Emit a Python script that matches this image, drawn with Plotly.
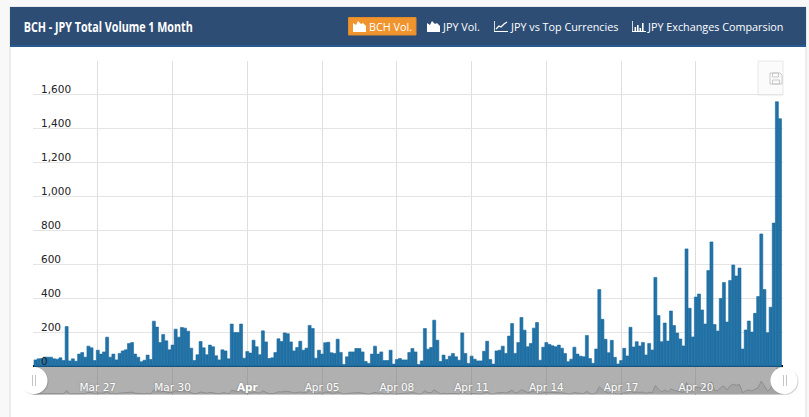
import plotly.graph_objects as go
import pandas as pd

W, H = 809, 417

# 3 hourly volume
volume = [
    39, 45, 47, 55, 55, 55, 45, 43, 51, 35, 235, 33, 45, 31, 73, 82, 55, 120, 110, 35,
    96, 73, 86, 173, 55, 73, 39, 77, 92, 98, 135, 141, 73, 55, 28, 37, 67, 41, 267, 232,
    141, 189, 151, 98, 126, 220, 173, 230, 226, 208, 108, 35, 69, 147, 110, 69, 126, 116, 63, 39,
    98, 92, 45, 250, 200, 200, 250, 49, 88, 79, 155, 116, 69, 210, 145, 47, 51, 82, 163, 147,
    198, 193, 145, 92, 112, 149, 96, 108, 242, 224, 49, 96, 73, 140, 143, 81, 77, 161, 83, 12,
    57, 86, 86, 106, 106, 86, 29, 18, 73, 120, 73, 86, 35, 35, 96, 14, 41, 47, 39, 39,
    83, 106, 86, 12, 33, 224, 102, 112, 273, 155, 29, 67, 41, 61, 77, 57, 37, 198, 77, 18,
    61, 43, 33, 33, 90, 149, 41, 14, 92, 96, 120, 77, 179, 253, 77, 141, 289, 214, 116, 136,
    226, 259, 37, 114, 141, 130, 122, 116, 126, 108, 77, 28, 43, 114, 73, 61, 57, 183, 47, 19,
    103, 453, 278, 160, 81, 154, 54, 15, 35, 107, 62, 231, 115, 146, 121, 142, 68, 136, 97, 525,
    300, 146, 256, 150, 327, 241, 197, 162, 121, 693, 343, 174, 409, 427, 333, 250, 565, 734, 247, 209,
    401, 495, 262, 507, 598, 533, 580, 103, 215, 268, 203, 313, 412, 781, 453, 199, 349, 845, 1560, 1460,
]
times = pd.date_range("2018-03-24 12:00", periods=len(volume), freq="3h")

y_ticks = [0, 200, 400, 600, 800, 1000, 1200, 1400, 1600, 1800]
y_labels = ["0", "200", "400", "600", "800", "1,000", "1,200", "1,400", "1,600", ""]
x_ticks = ["2018-03-27", "2018-03-30", "2018-04-02", "2018-04-05", "2018-04-08",
           "2018-04-11", "2018-04-14", "2018-04-17", "2018-04-20"]
x_labels = ["Mar 27", "Mar 30", "<b>Apr</b>", "Apr 05", "Apr 08", "Apr 11", "Apr 14", "Apr 17", "Apr 20"]
x_range = ["2018-03-24 09:36", "2018-04-23 11:54"]

title = "BCH - JPY Total Volume 1 Month"
menu = [("BCH Vol.", 367), ("JPY Vol.", 440), ("JPY vs Top Currencies", 507.5), ("JPY Exchanges Comparsion", 644.5)]


def px(x):
    return x / W


def py(y):
    return 1 - y / H


def rect(x0, y0, x1, y1, fill, line=None, layer="below"):
    return dict(type="rect", xref="paper", yref="paper", x0=px(x0), x1=px(x1), y0=py(y0), y1=py(y1),
                fillcolor=fill, line=dict(color=line or fill, width=1 if line else 0), layer=layer)


def path(points, fill="white", line=None, width=0):
    # points are page pixels, turned into a closed svg path on paper coords
    d = "M" + " L".join(f"{px(a):.5f},{py(b):.5f}" for a, b in points) + " Z"
    return dict(type="path", xref="paper", yref="paper", path=d, fillcolor=fill,
                line=dict(color=line or fill, width=width), layer="above")


def circle(cx, cy, r, fill):
    return dict(type="circle", xref="paper", yref="paper", x0=px(cx - r), x1=px(cx + r), y0=py(cy + r), y1=py(cy - r),
                fillcolor=fill, line=dict(width=0), layer="above")


def area_icon(x):
    return [path([(x, 32), (x, 23), (x + 3, 25), (x + 5, 21), (x + 8, 24), (x + 10, 23), (x + 13, 26), (x + 13, 32)])]


def line_icon(x):
    return [path([(x, 21), (x + .8, 21), (x + .8, 31), (x + 14, 31), (x + 14, 32), (x, 32)]),
            dict(type="path", xref="paper", yref="paper", line=dict(color="white", width=1.3), layer="above",
                 path="M" + " L".join(f"{px(a):.5f},{py(b):.5f}" for a, b in
                                      [(x + 2, 29), (x + 5, 26), (x + 7, 27), (x + 10, 24), (x + 13, 22)]))]


def bar_icon(x):
    out = [path([(x, 21), (x + .8, 21), (x + .8, 31), (x + 14, 31), (x + 14, 32), (x, 32)])]
    for dx, top in [(2.5, 27), (5, 25), (7.5, 28), (10, 23)]:
        out.append(rect(x + dx, top, x + dx + 1.6, 31, "white", layer="above"))
    return out


fig = go.Figure()
fig.add_trace(go.Bar(x=times, y=volume, marker=dict(color="#2272a6", line=dict(color="#196a9f", width=0.6)),
                     xaxis="x", yaxis="y", hoverinfo="x+y"))
fig.add_trace(go.Scatter(x=times, y=volume, mode="lines", line=dict(color="#8e8e8e", width=1),
                         fill="tozeroy", fillcolor="#a4a4a4", xaxis="x2", yaxis="y2", hoverinfo="skip"))

shapes = [
    rect(10, 7, 806, H + 2, "white", "#dcdcdc"),
    rect(10, 7, 806, 45, "#2d4d75"),
    rect(10, 45, 806, 47, "#2a5a94"),
    rect(758, 61, 783, 95, "#fbfbfb", "#e8e8e8"),
    rect(33, 367, 783, 394.5, "#b0b0b0"),
    rect(348.5, 17.5, 416, 35, "#f0942e", "#e08a2c", layer="above"),
    # save icon
    path([(770, 73), (780, 73), (782, 75), (782, 84), (770, 84)], fill="rgba(0,0,0,0)", line="#c8c8c8", width=1),
    path([(772.5, 73), (778.5, 73), (778.5, 77), (772.5, 77)], fill="rgba(0,0,0,0)", line="#c8c8c8", width=1),
    path([(772.5, 80), (779.5, 80), (779.5, 84), (772.5, 84)], fill="rgba(0,0,0,0)", line="#c8c8c8", width=1),
    # slider handles
    circle(35, 381.5, 13.5, "rgba(90,90,90,0.25)"),
    circle(34, 380.5, 13.5, "white"),
    circle(785, 381.5, 13.5, "rgba(90,90,90,0.25)"),
    circle(784, 380.5, 13.5, "white"),
    rect(32, 375, 33, 386, "#c4c4c4", layer="above"),
    rect(35, 375, 36, 386, "#c4c4c4", layer="above"),
    rect(783, 375, 784, 386, "#c4c4c4", layer="above"),
    rect(786, 375, 787, 386, "#c4c4c4", layer="above"),
]
shapes += area_icon(353) + area_icon(427) + line_icon(494) + bar_icon(632)

annotations = [dict(text=title, x=px(107.5), y=py(26), xref="paper", yref="paper", xanchor="center", yanchor="middle",
                    showarrow=False, font=dict(family="Open Sans", size=15, color="white", weight="bold"))]
for label, left in menu:
    annotations.append(dict(text=label, x=px(left), y=py(26), xref="paper", yref="paper", xanchor="left", yanchor="middle",
                            showarrow=False, font=dict(family="Open Sans", size=10.8, color="white")))

fig.update_layout(
    width=W, height=H, margin=dict(l=0, r=0, t=0, b=0), autosize=False,
    paper_bgcolor="#f8f8f8", plot_bgcolor="rgba(0,0,0,0)", showlegend=False, bargap=0.04,
    shapes=shapes, annotations=annotations,
    xaxis=dict(domain=[px(33), px(783)], anchor="y", type="date", range=x_range, tickmode="array", tickvals=x_ticks,
               showticklabels=False, ticks="", showgrid=True, gridcolor="#dedede", gridwidth=1, showline=False),
    # axis runs a little under zero so the shifted "0" label is not dropped, zeroline is the baseline
    yaxis=dict(domain=[py(370.5), py(61)], anchor="x", range=[-23.6, 1800], tickmode="array", tickvals=y_ticks, ticktext=y_labels,
               ticks="", showline=False, zeroline=True, zerolinecolor="black", zerolinewidth=1.5,
               showgrid=True, gridcolor="#e4e4e4", gridwidth=1,
               ticklabelposition="inside top", ticklabelstandoff=5, ticklabelshift=2,
               tickfont=dict(family="DejaVu Sans", size=10.5, color="#222222")),
    xaxis2=dict(domain=[px(33), px(783)], anchor="y2", type="date", range=x_range, tickmode="array", tickvals=x_ticks, ticktext=x_labels,
                ticks="", ticklabelposition="inside", ticklabelstandoff=-2, showgrid=True, gridcolor="#a2a2a2", gridwidth=1, showline=False,
                tickfont=dict(family="DejaVu Sans", size=10.5, color="white", shadow="0px 0px 2px #777777")),
    yaxis2=dict(domain=[py(394.5), py(367)], anchor="x2", range=[0, 1600], visible=False),
)

# no condensed font here, so the title is squeezed to its width in the picture
post = """
document.body.style.margin='0';
document.documentElement.style.overflow='hidden';
function squeeze() {
    var t = document.querySelector('.annotation-text');
    if (t) { t.setAttribute('textLength', '169'); t.setAttribute('lengthAdjust', 'spacingAndGlyphs'); }
}
squeeze();
setTimeout(squeeze, 50);
"""
fig.write_html("out.html", config=dict(displayModeBar=False), post_script=post)
